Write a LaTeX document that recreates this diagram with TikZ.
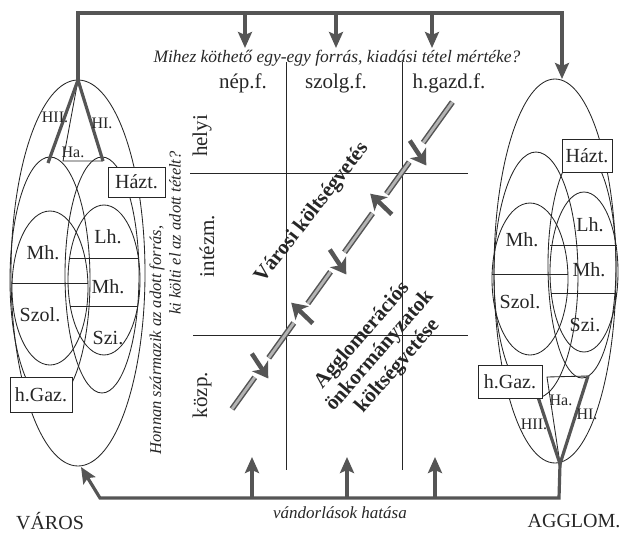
\documentclass[tikz,border=0pt]{standalone}
\usepackage{fontspec}
\setmainfont{Liberation Serif}
\usetikzlibrary{arrows.meta}
\definecolor{ink}{HTML}{262626}
\definecolor{flow}{HTML}{555555}
\definecolor{dbl}{HTML}{B4B4B4}
\begin{document}
\begin{tikzpicture}[x=1pt,y=-1pt,
  thinln/.style={draw=ink,line width=0.85pt},
  flowln/.style={draw=flow,line width=3.2pt,line join=miter},
  flowarr/.style={draw=flow,line width=3.2pt,line join=miter,-{Stealth[length=16pt,width=14pt,inset=3pt]}},
  bigarr/.style={draw=flow,line width=4.5pt,-{Stealth[length=15pt,width=19pt,inset=4pt]}},
  dblseg/.style={draw=flow,line width=1.5pt,double=dbl,double distance=2.8pt},
  lbl/.style={inner sep=0pt,text=ink,font=\fontsize{20}{20}\selectfont},
  slbl/.style={inner sep=0pt,text=ink,font=\fontsize{16}{16}\selectfont},
  boxed/.style={draw=ink,line width=0.9pt,fill=white,inner sep=0pt,text=ink,font=\fontsize{20}{20}\selectfont},
  hdr/.style={inner sep=0pt,text=ink,font=\fontsize{21}{21}\selectfont},
  ital/.style={inner sep=0pt,text=ink,font=\fontsize{17.5}{17.5}\selectfont\itshape},
  bld/.style={inner sep=0pt,text=ink,font=\fontsize{21}{21}\selectfont\bfseries},
]
\useasboundingbox (0,0) rectangle (621,538);

% ---------- left figure (VAROS) ----------
\draw[thinln] (78,273) ellipse [x radius=67pt,y radius=193pt];
\draw[thinln] (50,280) ellipse [x radius=40pt,y radius=123pt];
\draw[thinln] (102,275) ellipse [x radius=37pt,y radius=118pt];
\draw[thinln] (50,288) ellipse [x radius=38pt,y radius=77pt];
\draw[thinln] (104,280) ellipse [x radius=36pt,y radius=75pt];
\draw[thinln] (12,283) -- (88,283);
\draw[thinln] (70,258) -- (138,258);
\draw[thinln] (70,306) -- (138,306);
\coordinate (L0) at (78,80);
\coordinate (Lhii) at (48,163);
\coordinate (Lhi) at (103,161);
\coordinate (Lha) at (63,161);
\draw[thinln] (L0) -- (Lha) -- (Lhi);
\draw[flowln] (Lhii) -- (L0) -- (Lhi);

\node[boxed,minimum width=57pt,minimum height=30pt] (lhazt) at (136.5,182) {Házt.};
\node[boxed,minimum width=62pt,minimum height=35pt] (lhgaz) at (41,394.5) {h.Gaz.};
\node[slbl] (lhii) at (55,117) {HII.};
\node[slbl] (lhi) at (102,123) {HI.};
\node[slbl] (lha) at (73,152) {Ha.};
\node[lbl] (lmh1) at (43,253) {Mh.};
\node[lbl] (llh) at (108,237) {Lh.};
\node[lbl] (lmh2) at (108,287) {Mh.};
\node[lbl] (lszol) at (40,315) {Szol.};
\node[lbl] (lszi) at (108,338) {Szi.};
\node[lbl] (varos) at (50,521) {VÁROS};

% ---------- right figure (AGGLOM) ----------
\draw[thinln] (555,271) ellipse [x radius=61pt,y radius=192pt];
\draw[thinln] (536,275) ellipse [x radius=42pt,y radius=123pt];
\draw[thinln] (582,265) ellipse [x radius=34pt,y radius=113pt];
\draw[thinln] (530,279) ellipse [x radius=38pt,y radius=76pt];
\draw[thinln] (584,272) ellipse [x radius=34pt,y radius=80pt];
\draw[thinln] (550,245) -- (617,245);
\draw[thinln] (492,274) -- (568,274);
\draw[thinln] (551,293) -- (617,293);
\coordinate (R0) at (560,464);
\coordinate (Rhii) at (538,397);
\coordinate (Rhi) at (588,376);
\coordinate (Rha) at (547,377);
\draw[thinln] (R0) -- (Rha) -- (Rhi);
\draw[flowln] (Rhii) -- (R0) -- (Rhi);

\node[boxed,minimum width=50pt,minimum height=33pt] (rhazt) at (587,156) {Házt.};
\node[boxed,minimum width=64pt,minimum height=33pt] (rhgaz) at (510,381.5) {h.Gaz.};
\node[slbl] (rhii) at (534,424) {HII.};
\node[slbl] (rhi) at (587,414) {HI.};
\node[slbl] (rha) at (561,400) {Ha.};
\node[lbl] (rmh1) at (522,240) {Mh.};
\node[lbl] (rlh) at (590,225) {Lh.};
\node[lbl] (rmh2) at (589,270) {Mh.};
\node[lbl] (rszol) at (520,302) {Szol.};
\node[lbl] (rszi) at (585,325) {Szi.};
\node[lbl] (agglom) at (574,521) {AGGLOM.};

% ---------- flows around ----------
\coordinate (tl) at (78,13);
\coordinate (tr) at (562,13);
\coordinate (Rtop) at (562,79);
\draw[flowarr] (L0) -- (tl) -- (tr) -- (Rtop);
\coordinate (br) at (559,498);
\coordinate (bl) at (100,498);
\coordinate (Lbot) at (81,467);
\draw[flowarr] (R0) -- (br) -- (bl) -- (Lbot);

\foreach \x/\n in {245/a,336/b,432/c}{
  \coordinate (ts\n) at (\x,13);
  \coordinate (te\n) at (\x,48);
  \draw[flowarr] (ts\n) -- (te\n);
}
\foreach \x/\n in {252/a,347/b,435/c}{
  \coordinate (bs\n) at (\x,498);
  \coordinate (be\n) at (\x,457);
  \draw[flowarr] (bs\n) -- (be\n);
}

% ---------- grid ----------
\draw[thinln] (286,62) -- (286,470);
\draw[thinln] (402,62) -- (402,470);
\draw[thinln] (190,173) -- (468,173);
\draw[thinln] (193,335) -- (468,335);

\node[ital] (question) at (337,58) {Mihez köthető egy-egy forrás, kiadási tétel mértéke?};
\node[hdr] (nep) at (243,83) {nép.f.};
\node[hdr] (szolg) at (336,83) {szolg.f.};
\node[hdr] (hgazd) at (449,83) {h.gazd.f.};
\node[hdr,rotate=90] (helyi) at (202,136) {helyi};
\node[hdr,rotate=90] (intezm) at (207,246) {intézm.};
\node[hdr,rotate=90] (kozp) at (202,395) {közp.};
\node[ital,font=\fontsize{16.5}{16.5}\selectfont\itshape,rotate=90] (honnan1) at (157,340) {Honnan származik az adott forrás,};
\node[ital,font=\fontsize{16.5}{16.5}\selectfont\itshape,rotate=90] (honnan2) at (175,233) {ki költi el az adott tételt?};
\node[ital,font=\fontsize{17}{17}\selectfont\itshape] (vandor) at (340,513) {vándorlások hatása};

% ---------- diagonal ----------
\foreach \a/\b in {0/39,63/106,130/169,193/241,265/304,328/378}{
  \draw[dblseg] ({232+0.583*\a},{409-0.812*\a}) -- ({232+0.583*\b},{409-0.812*\b});
}
\coordinate (d1s) at (409.8,140.6); \coordinate (d1e) at (426.3,165.5);
\coordinate (u2s) at (391.8,214.4); \coordinate (u2e) at (370.2,193.7);
\coordinate (d3s) at (329.8,249.6); \coordinate (d3e) at (346.3,274.5);
\coordinate (u4s) at (312.8,323.4); \coordinate (u4e) at (291.2,302.7);
\coordinate (d5s) at (251.8,353.6); \coordinate (d5e) at (268.3,378.5);
\draw[bigarr] (d1s) -- (d1e);
\draw[bigarr] (u2s) -- (u2e);
\draw[bigarr] (d3s) -- (d3e);
\draw[bigarr] (u4s) -- (u4e);
\draw[bigarr] (d5s) -- (d5e);

\node[bld,rotate=52] (varosi) at (312,213) {Városi költségvetés};
\node[bld,font=\fontsize{21}{23.5}\selectfont\bfseries,align=center,rotate=49] (aggl) at (380,351) {Agglomerációs\\önkormányzatok\\költségvetése};
\end{tikzpicture}
\end{document}
